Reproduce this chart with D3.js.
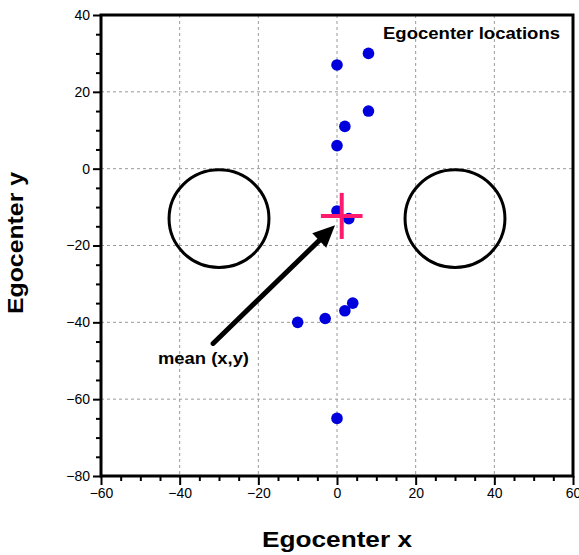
<!DOCTYPE html>
<html>
<head>
<meta charset="utf-8">
<script src="https://cdn.jsdelivr.net/npm/d3@7"></script>
<style>
  body { margin: 0; background: #fff; }
  text { font-family: "Liberation Sans", Arial, Helvetica, sans-serif; }
</style>
</head>
<body>
<svg width="579" height="555"></svg>
<script>
// egocenter points
const egoX = [8, 0, 8, 2, 0, 0, 3, -10, -3, 2, 4, 0];
const egoY = [30, 27, 15, 11, 6, -11, -13, -40, -39, -37, -35, -65];

// mean (x,y) cross with its half extents
const meanXY = [1.2, -12.3];
const meanErr = [5.3, 6];

// the two big rings
const ringX = [-30, 30];
const ringY = [-13, -13];
const ringR = 12.7;

// annotation arrow
const arrowFrom = [-31.5, -45.5];
const arrowTo = [-0.5, -14.7];

const xTicks = [-60, -40, -20, 0, 20, 40, 60];
const yTicks = [-80, -60, -40, -20, 0, 20, 40];

let svg = d3.select("svg");
let margin = {top: 15, right: 6, bottom: 79, left: 101};
let width = +svg.attr("width") - margin.left - margin.right;
let height = +svg.attr("height") - margin.top - margin.bottom;
let g = svg.append("g").attr("transform", `translate(${margin.left},${margin.top})`);

let x = d3.scaleLinear().domain([-60, 60]).range([0, width]);
let y = d3.scaleLinear().domain([-80, 40]).range([height, 0]);

// dashed grid
g.selectAll(".vgrid")
  .data(xTicks.slice(1, -1))
  .enter().append("line")
  .attr("x1", d => x(d)).attr("x2", d => x(d))
  .attr("y1", 0).attr("y2", height)
  .attr("stroke", "#999").attr("stroke-dasharray", "3,3");
g.selectAll(".hgrid")
  .data(yTicks.slice(1, -1))
  .enter().append("line")
  .attr("y1", d => y(d)).attr("y2", d => y(d))
  .attr("x1", 0).attr("x2", width)
  .attr("stroke", "#999").attr("stroke-dasharray", "3,3");

// minor ticks every 5
let xMinor = d3.range(-60, 61, 5).filter(v => !xTicks.includes(v));
let yMinor = d3.range(-80, 41, 5).filter(v => !yTicks.includes(v));

let xAxis = g.append("g").attr("transform", `translate(0,${height})`)
  .call(d3.axisBottom(x).tickValues(xTicks).tickSize(9).tickPadding(3));
let xAxisMinor = g.append("g").attr("transform", `translate(0,${height})`)
  .call(d3.axisBottom(x).tickValues(xMinor).tickSize(5).tickFormat(""));
let yAxis = g.append("g")
  .call(d3.axisLeft(y).tickValues(yTicks).tickSize(8).tickPadding(3));
let yAxisMinor = g.append("g")
  .call(d3.axisLeft(y).tickValues(yMinor).tickSize(5).tickFormat(""));

[xAxis, xAxisMinor, yAxis, yAxisMinor].forEach(a => {
  a.select(".domain").remove();
  a.selectAll("line").attr("stroke", "#000").attr("stroke-width", 2);
  a.selectAll("text").attr("fill", "#000").style("font-size", "14px");
});

// frame
g.append("rect")
  .attr("width", width).attr("height", height)
  .attr("fill", "none").attr("stroke", "#000").attr("stroke-width", 3);

// rings
g.selectAll(".ring")
  .data(ringX)
  .enter().append("ellipse")
  .attr("cx", d => x(d))
  .attr("cy", (d, i) => y(ringY[i]))
  .attr("rx", x(ringR) - x(0))
  .attr("ry", y(0) - y(ringR))
  .attr("fill", "none").attr("stroke", "#000").attr("stroke-width", 3);

// arrow
let ax1 = x(arrowFrom[0]), ay1 = y(arrowFrom[1]);
let ax2 = x(arrowTo[0]), ay2 = y(arrowTo[1]);
let ang = Math.atan2(ay2 - ay1, ax2 - ax1);
let headLen = 22, headW = 10;
let bx = ax2 - headLen * Math.cos(ang), by = ay2 - headLen * Math.sin(ang);
g.append("line")
  .attr("x1", ax1).attr("y1", ay1)
  .attr("x2", bx + 3 * Math.cos(ang)).attr("y2", by + 3 * Math.sin(ang))
  .attr("stroke", "#000").attr("stroke-width", 5).attr("stroke-linecap", "round");
g.append("path")
  .attr("d", d3.line()([
    [ax2, ay2],
    [bx - headW * Math.sin(ang), by + headW * Math.cos(ang)],
    [bx + headW * Math.sin(ang), by - headW * Math.cos(ang)]
  ]) + "Z")
  .attr("fill", "#000");

// points
g.selectAll(".pt")
  .data(egoX)
  .enter().append("circle")
  .attr("cx", d => x(d))
  .attr("cy", (d, i) => y(egoY[i]))
  .attr("r", 5.8)
  .attr("fill", "#0000dc");

// mean cross
g.append("line")
  .attr("x1", x(meanXY[0] - meanErr[0])).attr("x2", x(meanXY[0] + meanErr[0]))
  .attr("y1", y(meanXY[1])).attr("y2", y(meanXY[1]))
  .attr("stroke", "#ff1a6e").attr("stroke-width", 4);
g.append("line")
  .attr("x1", x(meanXY[0])).attr("x2", x(meanXY[0]))
  .attr("y1", y(meanXY[1] - meanErr[1])).attr("y2", y(meanXY[1] + meanErr[1]))
  .attr("stroke", "#ff1a6e").attr("stroke-width", 4);

// labels (the original type is a bit wider than Liberation, so stretch it)
g.append("text")
  .attr("x", 57).attr("y", 349)
  .attr("textLength", 91).attr("lengthAdjust", "spacingAndGlyphs")
  .style("font-size", "16px").style("font-weight", "bold")
  .text("mean (x,y)");

g.append("text")
  .attr("x", 282).attr("y", 24)
  .attr("textLength", 177).attr("lengthAdjust", "spacingAndGlyphs")
  .style("font-size", "17px").style("font-weight", "bold")
  .text("Egocenter locations");

svg.append("text")
  .attr("x", 262).attr("y", 547)
  .attr("textLength", 150).attr("lengthAdjust", "spacingAndGlyphs")
  .style("font-size", "22px").style("font-weight", "bold")
  .text("Egocenter x");

svg.append("text")
  .attr("transform", "translate(23,314) rotate(-90)")
  .attr("textLength", 142).attr("lengthAdjust", "spacingAndGlyphs")
  .style("font-size", "22px").style("font-weight", "bold")
  .text("Egocenter y");
</script>
</body>
</html>
